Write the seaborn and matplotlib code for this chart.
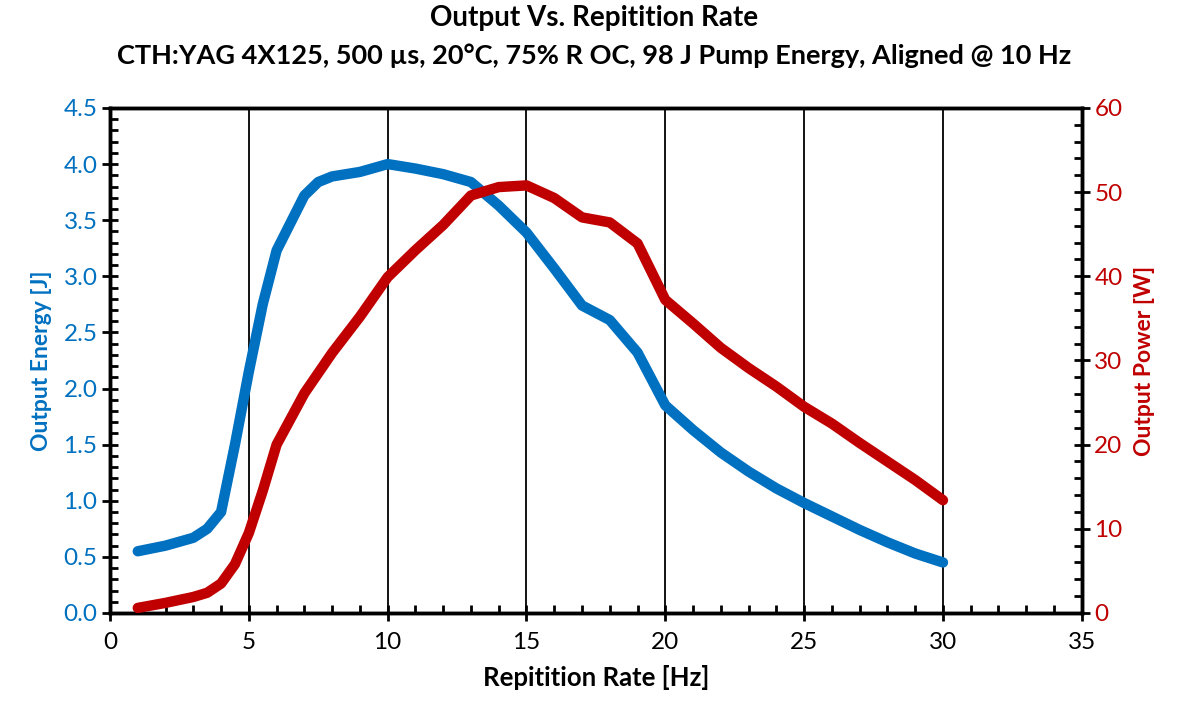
import numpy as np
import pandas as pd
import seaborn as sns
import matplotlib.pyplot as plt
from matplotlib.ticker import MultipleLocator

# values
rate_hz = [1, 2, 3, 3.5, 4, 4.5, 5, 5.5, 6, 7, 7.5, 8, 9, 10, 11, 12, 13, 14, 15,
           16, 17, 18, 19, 20, 21, 22, 23, 24, 25, 26, 27, 28, 29, 30]
energy_j = [0.55, 0.60, 0.67, 0.75, 0.90, 1.50, 2.15, 2.75, 3.23, 3.72, 3.84, 3.89, 3.93, 4.00,
            3.96, 3.91, 3.84, 3.63, 3.39, 3.07, 2.74, 2.61, 2.32, 1.85, 1.63, 1.43, 1.26,
            1.11, 0.98, 0.86, 0.74, 0.63, 0.53, 0.45]
power_w = [0.6, 1.2, 1.9, 2.4, 3.5, 5.8, 9.5, 14.5, 20.0, 26.1, 28.5, 30.9, 35.2, 39.9,
           43.1, 46.1, 49.6, 50.6, 50.8, 49.3, 47.0, 46.4, 43.9, 37.2, 34.4, 31.5, 29.1,
           26.9, 24.5, 22.5, 20.2, 18.0, 15.8, 13.4]

df = pd.DataFrame({"rate": rate_hz, "energy": energy_j, "power": power_w})

blue = "#0070C0"
red = "#C00000"

sns.set_style("ticks")
plt.rcParams['font.family'] = ['Lato', 'DejaVu Sans']
plt.rcParams['text.color'] = 'black'
plt.rcParams['axes.labelcolor'] = 'black'
plt.rcParams['xtick.color'] = 'black'
plt.rcParams['ytick.color'] = 'black'

fig = plt.figure(figsize=(11.88, 7.15), dpi=100)
ax = fig.add_axes([0.0926, 0.1427, 0.818, 0.7063])
ax2 = ax.twinx()

sns.lineplot(data=df, x="rate", y="energy", ax=ax, color=blue, linewidth=7.5,
             solid_capstyle="round", solid_joinstyle="round", zorder=3)
sns.lineplot(data=df, x="rate", y="power", ax=ax2, color=red, linewidth=7.5,
             solid_capstyle="round", solid_joinstyle="round", zorder=3)

ax.set_xlim(0, 35)
ax.set_ylim(0, 4.5)
ax2.set_ylim(0, 60)

ax.xaxis.set_major_locator(MultipleLocator(5))
ax.xaxis.set_minor_locator(MultipleLocator(1))
ax.yaxis.set_major_locator(MultipleLocator(0.5))
ax.yaxis.set_minor_locator(MultipleLocator(0.1))
ax2.yaxis.set_major_locator(MultipleLocator(10))
ax2.yaxis.set_minor_locator(MultipleLocator(2))
ax.yaxis.set_major_formatter(lambda v, p: f"{v:.1f}")

ax.grid(axis="x", which="major", color="black", linewidth=1.3)
ax.set_axisbelow(True)

for a in (ax, ax2):
    for s in a.spines.values():
        s.set_linewidth(2.5)
        s.set_color("black")
    a.tick_params(which="major", direction="inout", length=12, width=2, labelsize=17.5,
                  color="black")
    a.tick_params(which="minor", direction="in", length=6, width=2, color="black")

ax.tick_params(axis="x", pad=8, labelcolor="black")
ax.tick_params(axis="y", labelcolor=blue, pad=3)
ax2.tick_params(axis="y", labelcolor=red, pad=3)

ax.set_xlabel("Repitition Rate [Hz]", fontsize=18.5, fontweight="bold", labelpad=8,
              color="black")
ax.set_ylabel("Output Energy [J]", fontsize=16.5, fontweight="bold", color=blue, labelpad=8)
ax2.set_ylabel("Output Power [W]", fontsize=16.5, fontweight="bold", color=red, labelpad=8)

fig.text(0.5, 0.975, "Output Vs. Repitition Rate", ha="center", va="center",
         fontsize=20, fontweight="bold", color="black")
fig.text(0.5, 0.922, "CTH:YAG 4X125, 500 µs, 20°C, 75% R OC, 98 J Pump Energy, Aligned @ 10 Hz",
         ha="center", va="center", fontsize=19.5, fontweight="bold", color="black")

fig.savefig("out.png", dpi=100)
